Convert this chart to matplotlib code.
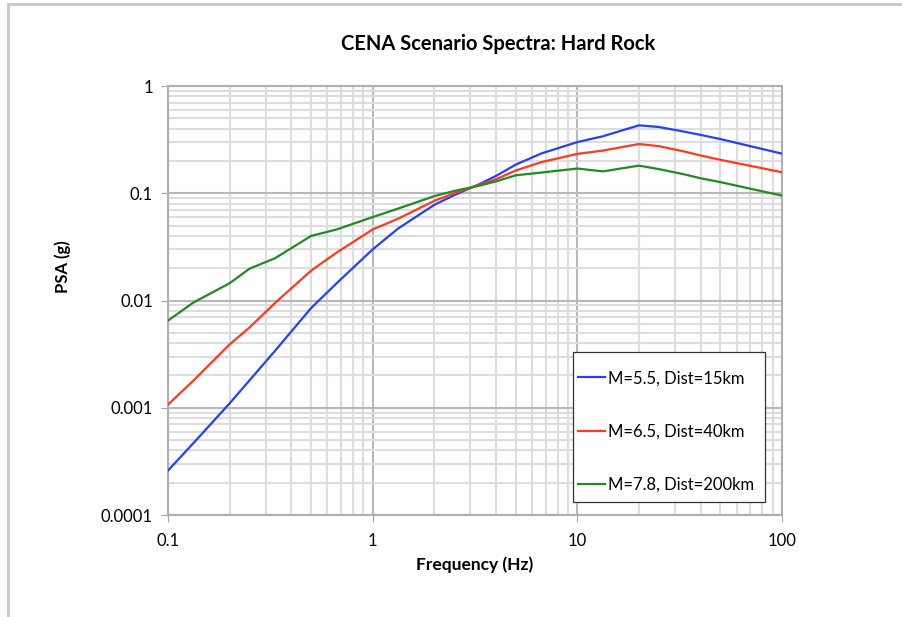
import matplotlib.pyplot as plt
import numpy as np
from matplotlib.lines import Line2D
from matplotlib.patches import Rectangle

plt.rcParams['font.family'] = ['Lato', 'DejaVu Sans']

freq = [0.1, 0.1333, 0.2, 0.25, 0.3333, 0.5, 0.6667, 1.0, 1.333, 2.0, 2.5,
        3.333, 4.0, 5.0, 6.667, 10.0, 13.33, 20.0, 25.0, 33.33, 40.0, 50.0, 100.0]

psa_m55 = [2.6e-4, 4.7e-4, 1.1e-3, 1.8e-3, 3.4e-3, 8.5e-3, 0.0145, 0.030, 0.047,
           0.078, 0.096, 0.122, 0.145, 0.185, 0.235, 0.30, 0.34, 0.43, 0.415,
           0.375, 0.35, 0.32, 0.234]
psa_m65 = [1.07e-3, 1.8e-3, 3.9e-3, 5.6e-3, 9.5e-3, 0.019, 0.028, 0.046, 0.058,
           0.085, 0.100, 0.120, 0.135, 0.163, 0.195, 0.233, 0.25, 0.288, 0.275,
           0.245, 0.225, 0.205, 0.157]
psa_m78 = [0.0065, 0.0096, 0.0145, 0.0198, 0.0248, 0.040, 0.046, 0.060, 0.072,
           0.094, 0.105, 0.118, 0.129, 0.147, 0.156, 0.170, 0.160, 0.181, 0.168,
           0.150, 0.138, 0.127, 0.095]

labels = ['M=5.5, Dist=15km', 'M=6.5, Dist=40km', 'M=7.8, Dist=200km']
colors = ['#2340ff', '#ff3a1c', '#1f8c1f']

xticks = [0.1, 1, 10, 100]
xticklabels = ['0.1', '1', '10', '100']
yticks = [0.0001, 0.001, 0.01, 0.1, 1]
yticklabels = ['0.0001', '0.001', '0.01', '0.1', '1']

fig = plt.figure(figsize=(9.02, 6.17), dpi=100)
ax = fig.add_axes([0.1863, 0.1653, 0.6807, 0.6953])

for y, lab, c in zip([psa_m55, psa_m65, psa_m78], labels, colors):
    ax.plot(freq, y, color=c, lw=1.6, label=lab, zorder=3)

ax.set_xscale('log')
ax.set_yscale('log')
ax.set_xlim(0.1, 100)
ax.set_ylim(0.0001, 1)
ax.set_xticks(xticks)
ax.set_xticklabels(xticklabels)
ax.set_yticks(yticks)
ax.set_yticklabels(yticklabels)

ax.grid(which='major', color='#b8b8b8', lw=1.5)
ax.grid(which='minor', color='#dddddd', lw=1.5)
ax.set_axisbelow(True)
ax.tick_params(which='major', direction='out', length=5, color='#a8a8a8',
               labelsize=12, pad=6)
ax.tick_params(axis='x', which='major', pad=8)
ax.tick_params(which='minor', length=0)
for s in ax.spines.values():
    s.set_color('#b0b0b0')
    s.set_linewidth(1.5)

ax.set_title('CENA Scenario Spectra: Hard Rock', fontsize=14.5,
             fontweight='bold', pad=26, x=0.537)
ax.set_xlabel('Frequency (Hz)', fontsize=12.5, fontweight='bold', labelpad=5)
ax.set_ylabel('PSA (g)', fontsize=12, fontweight='bold')
ax.yaxis.set_label_coords(-0.158, 0.578)

# legend box, then the entries inside it
ax.add_patch(Rectangle((0.6596, 0.0303), 0.3127, 0.3497, transform=ax.transAxes,
                       facecolor='white', edgecolor='#333333', lw=0.9,
                       zorder=4))
leg = ax.legend(loc='upper left', bbox_to_anchor=(0.6678, 0.3375),
                fontsize=12, labelspacing=2.24, handlelength=1.62,
                handletextpad=0.18, borderpad=0, borderaxespad=0,
                frameon=False)
leg.set_zorder(5)

# outer frame along the left and top edges
fig.add_artist(Line2D([0.0089, 0.0089], [0.0, 0.9935], color='#c8c8c8', lw=2))
fig.add_artist(Line2D([0.0089, 1.0], [0.9935, 0.9935], color='#c8c8c8', lw=2))

fig.savefig('out.png', dpi=100)
